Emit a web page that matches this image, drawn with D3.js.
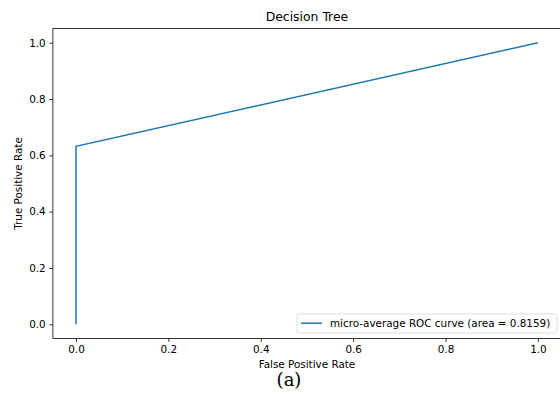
<!DOCTYPE html>
<html>
<head>
<meta charset="utf-8">
<script src="https://cdn.jsdelivr.net/npm/d3@7"></script>
<style>
  body { margin: 0; background: #fff; }
  svg text { font-family: "DejaVu Sans", sans-serif; fill: #000; }
</style>
</head>
<body>
<div id="chart"></div>
<script>
// ROC points
var fpr = [0, 0, 1];
var tpr = [0, 0.6318, 1];
var xTicks = [0, 0.2, 0.4, 0.6, 0.8, 1.0];
var yTicks = [0, 0.2, 0.4, 0.6, 0.8, 1.0];
var legendLabel = "micro-average ROC curve (area = 0.8159)";

var width = 560, height = 397;
var margin = { left: 52.9, right: 561, top: 28.6, bottom: 338.4 };

var svg = d3.select("#chart").append("svg")
  .attr("width", width)
  .attr("height", height);

var x = d3.scaleLinear().domain([-0.05, 1.05]).range([margin.left, margin.right]);
var y = d3.scaleLinear().domain([-0.05, 1.05]).range([margin.bottom, margin.top]);

var points = fpr.map(function(d, i) { return [d, tpr[i]]; });

var line = d3.line()
  .x(function(d) { return x(d[0]); })
  .y(function(d) { return y(d[1]); });

svg.append("path")
  .datum(points)
  .attr("fill", "none")
  .attr("stroke", "#1f77b4")
  .attr("stroke-width", 1.5)
  .attr("d", line);

// axes
var xAxis = d3.axisBottom(x).tickValues(xTicks).tickFormat(d3.format(".1f"))
  .tickSize(3.6).tickPadding(3.6);
var yAxis = d3.axisLeft(y).tickValues(yTicks).tickFormat(d3.format(".1f"))
  .tickSize(3.6).tickPadding(3.6);

var gx = svg.append("g").attr("transform", "translate(0," + margin.bottom + ")").call(xAxis);
var gy = svg.append("g").attr("transform", "translate(" + margin.left + ",0)").call(yAxis);

[gx, gy].forEach(function(g) {
  g.select(".domain").remove();
  g.selectAll("line").attr("stroke", "#000").attr("stroke-width", 0.8);
  g.selectAll("text").style("font-family", "DejaVu Sans").style("font-size", "10.4px").attr("fill", "#000");
});

// spines
svg.append("rect")
  .attr("x", margin.left)
  .attr("y", margin.top)
  .attr("width", margin.right - margin.left)
  .attr("height", margin.bottom - margin.top)
  .attr("fill", "none")
  .attr("stroke", "#000")
  .attr("stroke-width", 0.8);

// title and labels
var cx = (margin.left + margin.right) / 2;
svg.append("text")
  .attr("x", cx).attr("y", 21)
  .attr("text-anchor", "middle")
  .style("font-size", "12.4px")
  .text("Decision Tree");

svg.append("text")
  .attr("x", cx).attr("y", 368)
  .attr("text-anchor", "middle")
  .style("font-size", "10.4px")
  .text("False Positive Rate");

svg.append("text")
  .attr("transform", "translate(21.5," + ((margin.top + margin.bottom) / 2) + ") rotate(-90)")
  .attr("text-anchor", "middle")
  .style("font-size", "10.4px")
  .text("True Positive Rate");

// legend
var lg = svg.append("g");
lg.append("rect")
  .attr("x", 297).attr("y", 314)
  .attr("width", 260).attr("height", 19)
  .attr("rx", 2)
  .attr("fill", "#fff")
  .attr("fill-opacity", 0.8)
  .attr("stroke", "#d6d6d6")
  .attr("stroke-width", 0.8);
lg.append("line")
  .attr("x1", 301).attr("x2", 322)
  .attr("y1", 323.2).attr("y2", 323.2)
  .attr("stroke", "#1f77b4")
  .attr("stroke-width", 1.5);
lg.append("text")
  .attr("x", 330).attr("y", 326.8)
  .style("font-size", "10.4px")
  .text(legendLabel);

// caption
svg.append("text")
  .attr("x", 289).attr("y", 386)
  .attr("text-anchor", "middle")
  .style("font-family", "DejaVu Serif")
  .style("font-size", "18px")
  .text("(a)");
</script>
</body>
</html>
